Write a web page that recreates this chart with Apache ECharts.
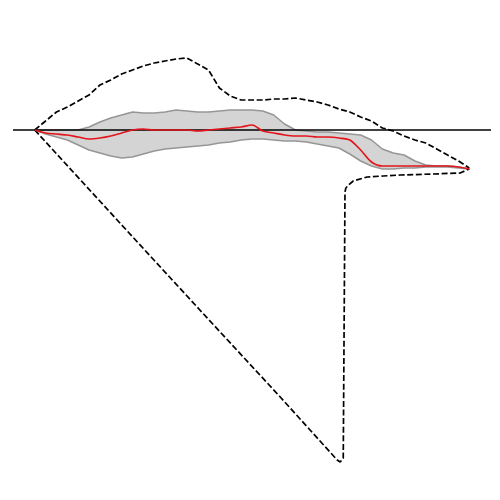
<!DOCTYPE html>
<html>
<head>
<meta charset="utf-8">
<script src="https://cdn.jsdelivr.net/npm/echarts@6/dist/echarts.min.js"></script>
<style>
  html, body { margin: 0; padding: 0; background: #fff; }
  #chart { width: 500px; height: 500px; }
</style>
</head>
<body>
<div id="chart"></div>
<script>
// common x positions (step 2.5)
const xs = Array.from({ length: 41 }, (_, i) => i * 2.5)

const maxLine = [0, 0.09, 0.18, 0.23, 0.29, 0.35, 0.45, 0.50, 0.56, 0.60, 0.64, 0.67, 0.69, 0.71, 0.72,
  0.66, 0.60, 0.42, 0.34, 0.30, 0.30, 0.30, 0.31, 0.31, 0.32, 0.30, 0.28, 0.25, 0.21, 0.18, 0.13,
  0.09, 0.02, -0.01, -0.06, -0.10, -0.13, -0.19, -0.25, -0.31, -0.38]

const bandHigh = [0, 0, 0, 0, 0, 0.03, 0.08, 0.12, 0.15, 0.18, 0.17, 0.17, 0.18, 0.20, 0.19, 0.18,
  0.18, 0.19, 0.20, 0.20, 0.20, 0.19, 0.15, 0.06, 0, -0.01, -0.02, -0.02, -0.03, -0.04, -0.05,
  -0.10, -0.19, -0.23, -0.25, -0.31, -0.35, -0.36, -0.36, -0.37, -0.39]

const bandLow = [0, -0.04, -0.07, -0.10, -0.15, -0.20, -0.23, -0.26, -0.28, -0.27, -0.24, -0.21,
  -0.19, -0.18, -0.17, -0.16, -0.15, -0.13, -0.12, -0.10, -0.09, -0.09, -0.10, -0.11, -0.11,
  -0.12, -0.14, -0.16, -0.18, -0.24, -0.31, -0.36, -0.39, -0.39, -0.38, -0.38, -0.37, -0.37,
  -0.37, -0.38, -0.39]

const meanLine = [0, -0.03, -0.04, -0.05, -0.07, -0.09, -0.08, -0.06, -0.03, 0, 0.01, 0, 0, 0, 0,
  -0.01, 0, 0.01, 0.02, 0.03, 0.05, -0.01, -0.03, -0.05, -0.06, -0.06, -0.07, -0.07, -0.08,
  -0.10, -0.20, -0.32, -0.36, -0.36, -0.36, -0.36, -0.36, -0.36, -0.36, -0.37, -0.39]

// min line has its own x positions (sharp jump)
const minX = [0, 19.6, 38.0, 56.5, 69.6, 70.3, 71.0, 71.4, 71.6, 72.2, 73.3, 76.5, 80.2, 84.1, 91.7, 97.9, 100]
const minY = [0, -0.93, -1.80, -2.67, -3.30, -3.32, -3.28, -0.62, -0.58, -0.55, -0.51, -0.47, -0.46, -0.45, -0.44, -0.43, -0.39]

const pairs = (x, y) => x.map((v, i) => [v, y[i]])

const chart = echarts.init(document.getElementById('chart'))

const dashed = {
  color: '#000',
  width: 1.7,
  type: [6, 2.6]
}

chart.setOption({
  animation: false,
  grid: { left: 13, right: 9, top: 0, bottom: 0 },
  xAxis: {
    type: 'value',
    min: -5,
    max: 105,
    show: false
  },
  yAxis: {
    type: 'value',
    min: -3.7,
    max: 1.3,
    show: false
  },
  series: [
    {
      type: 'custom',
      z: 1,
      data: [0],
      renderItem: (params, api) => {
        const pts = xs.map((x, i) => api.coord([x, bandHigh[i]]))
        for (let i = xs.length - 1; i >= 0; i--) pts.push(api.coord([xs[i], bandLow[i]]))
        return {
          type: 'polygon',
          shape: { points: pts },
          style: { fill: '#d4d4d4', stroke: null }
        }
      }
    },
    {
      type: 'line',
      z: 2,
      data: pairs(xs, bandHigh),
      showSymbol: false,
      lineStyle: { color: '#969696', width: 1.5 }
    },
    {
      type: 'line',
      z: 2,
      data: pairs(xs, bandLow),
      showSymbol: false,
      lineStyle: { color: '#969696', width: 1.5 }
    },
    {
      type: 'line',
      z: 3,
      data: [[-5, 0], [105, 0]],
      showSymbol: false,
      lineStyle: { color: '#000', width: 1.4 }
    },
    {
      type: 'line',
      z: 4,
      data: pairs(xs, maxLine),
      showSymbol: false,
      lineStyle: dashed
    },
    {
      type: 'line',
      z: 4,
      data: pairs(minX, minY),
      showSymbol: false,
      lineStyle: dashed
    },
    {
      type: 'line',
      z: 5,
      data: pairs(xs, meanLine),
      showSymbol: false,
      smooth: 0.3,
      lineStyle: { color: '#e3141b', width: 1.7 }
    }
  ]
})
</script>
</body>
</html>
